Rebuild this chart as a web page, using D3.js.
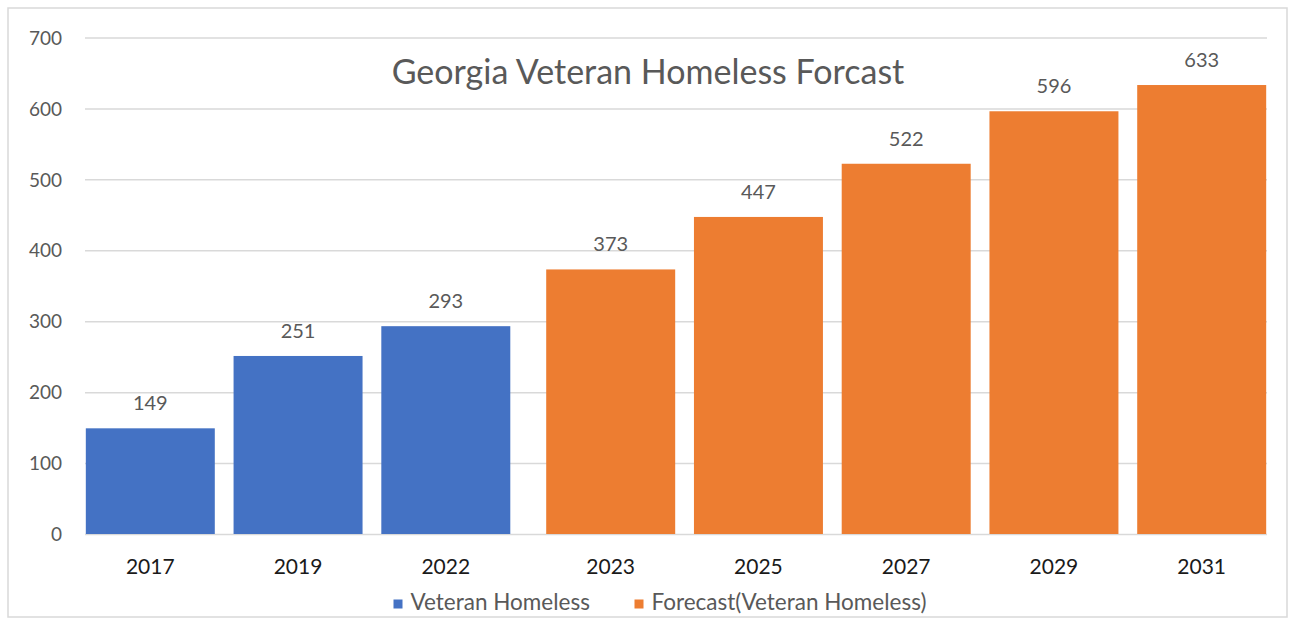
<!DOCTYPE html>
<html>
<head>
<meta charset="utf-8">
<script src="https://cdn.jsdelivr.net/npm/d3@7"></script>
<style>
  html, body { margin: 0; padding: 0; background: #fff; }
  svg { display: block; }
  text { font-family: Lato, "Open Sans", sans-serif; }
</style>
</head>
<body>
<svg id="chart" width="1297" height="619"></svg>
<script>
// ---- data ----
const title = "Georgia Veteran Homeless Forcast";
const categories = ["2017", "2019", "2022", "2023", "2025", "2027", "2029", "2031"];
const seriesNames = ["Veteran Homeless", "Forecast(Veteran Homeless)"];
const veteranHomeless = [149, 251, 293, null, null, null, null, null];
const forecastHomeless = [null, null, null, 373, 447, 522, 596, 633];
const yTicks = [0, 100, 200, 300, 400, 500, 600, 700];
const seriesColors = ["#4472C4", "#ED7D31"];

// ---- layout ----
const W = 1297, H = 619;
const plot = { left: 85, right: 1267, top: 37.5, bottom: 534 };

const svg = d3.select("#chart");
svg.append("rect").attr("x", 0).attr("y", 0).attr("width", W).attr("height", H).attr("fill", "#fff");
svg.append("rect")
  .attr("x", 8).attr("y", 8).attr("width", 1279).attr("height", 609)
  .attr("fill", "none").attr("stroke", "#d9d9d9").attr("stroke-width", 1.5);

const x0 = d3.scaleBand().domain(categories).range([plot.left, plot.right]).paddingInner(0).paddingOuter(0);
const bw = x0.bandwidth();
const barW = bw * 0.873;
const off = bw * 0.058;
const x1 = d3.scalePoint().domain(seriesNames).range([-off, off]);
const y = d3.scaleLinear().domain([0, 700]).range([plot.bottom, plot.top]);

// gridlines + y axis
const yAxis = d3.axisLeft(y).tickValues(yTicks).tickSize(-(plot.right - plot.left)).tickPadding(23);
const gy = svg.append("g").attr("transform", `translate(${plot.left},0)`).call(yAxis);
gy.select(".domain").remove();
gy.selectAll(".tick line").attr("stroke", "#d9d9d9").attr("stroke-width", 1.5);
gy.selectAll(".tick text").attr("fill", "#595959").style("font-size", "19px").attr("dy", "0.35em");

// bars
const series = [veteranHomeless, forecastHomeless];
const barData = [];
series.forEach((vals, si) => {
  vals.forEach((v, i) => {
    if (v !== null) barData.push({ cat: categories[i], s: seriesNames[si], v, color: seriesColors[si] });
  });
});

const cx = d => x0(d.cat) + bw / 2 + x1(d.s);

svg.append("g").selectAll("rect").data(barData).join("rect")
  .attr("x", d => cx(d) - barW / 2)
  .attr("y", d => y(d.v))
  .attr("width", barW)
  .attr("height", d => y(0) - y(d.v))
  .attr("fill", d => d.color);

// value labels
svg.append("g").selectAll("text").data(barData).join("text")
  .attr("x", d => cx(d))
  .attr("y", d => y(d.v) - 18)
  .attr("text-anchor", "middle")
  .attr("fill", "#595959")
  .style("font-size", "20px")
  .text(d => d.v);

// x labels
svg.append("g").selectAll("text").data(barData).join("text")
  .attr("x", d => cx(d))
  .attr("y", 574)
  .attr("text-anchor", "middle")
  .attr("fill", "#1a1a1a")
  .style("font-size", "21px")
  .text(d => d.cat);

// title
svg.append("text")
  .attr("x", 648).attr("y", 84)
  .attr("text-anchor", "middle")
  .attr("fill", "#595959")
  .style("font-size", "34px")
  .text(title);

// legend
const legendX = [393.5, 634.5];
const lg = svg.append("g");
seriesNames.forEach((name, i) => {
  lg.append("rect").attr("x", legendX[i]).attr("y", 599.5).attr("width", 9).attr("height", 9).attr("fill", seriesColors[i]);
  lg.append("text").attr("x", legendX[i] + 17).attr("y", 610)
    .attr("fill", "#595959").style("font-size", "22.5px").text(name);
});
</script>
</body>
</html>
